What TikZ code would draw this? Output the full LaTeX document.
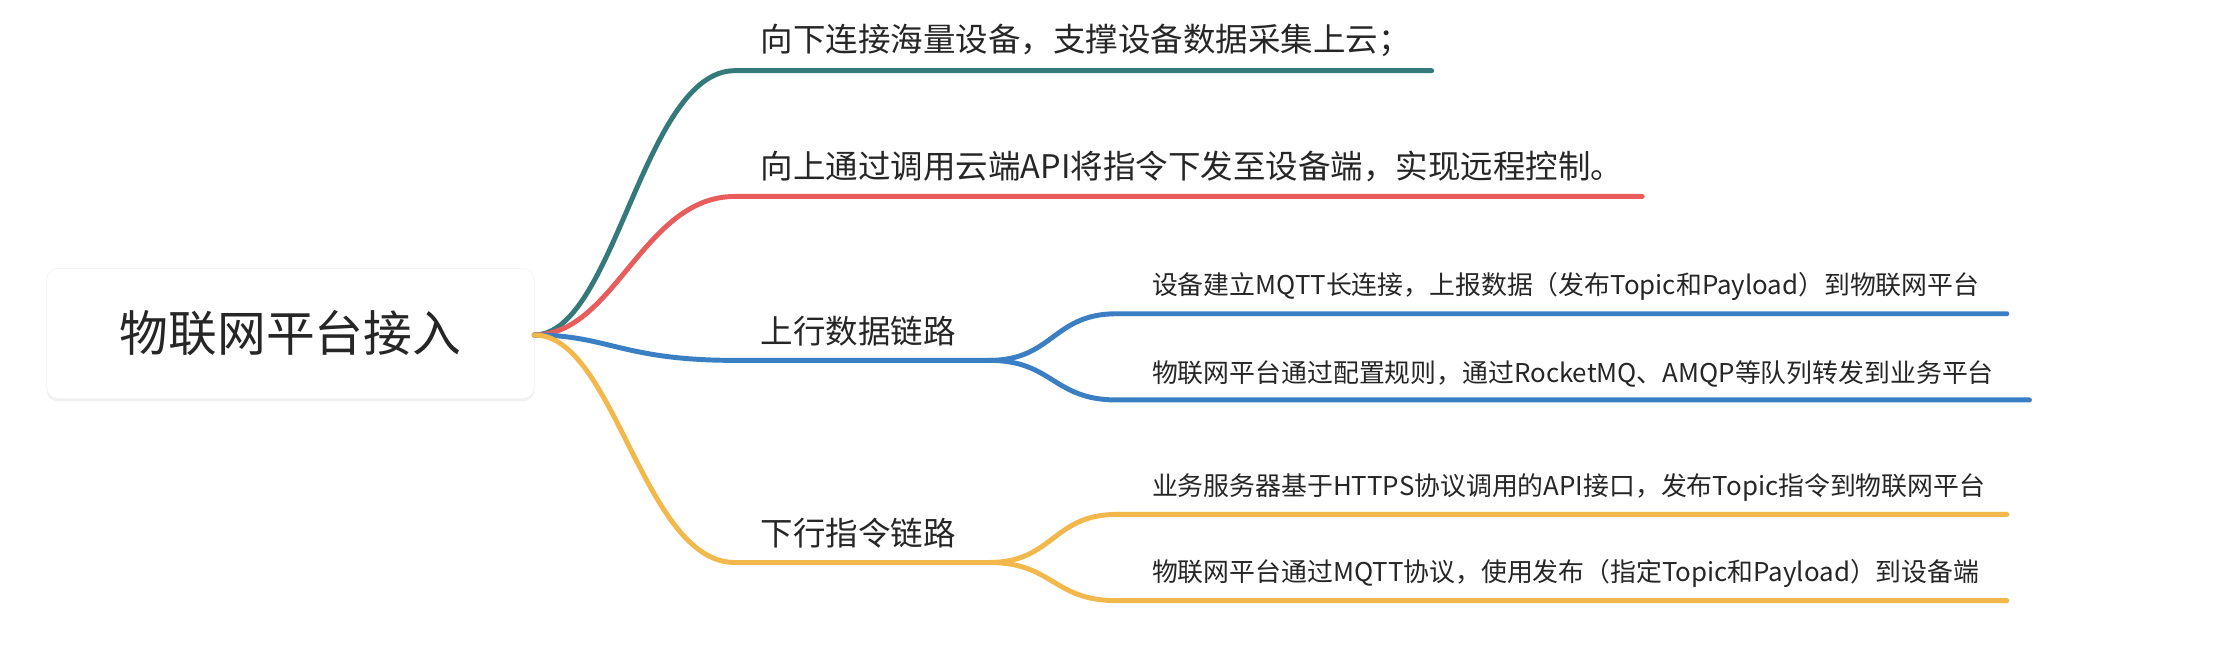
\documentclass[tikz,border=0pt]{standalone}
\usepackage{fontspec}
\setmainfont{Noto Sans CJK SC}
\usetikzlibrary{positioning,shadows}
\definecolor{teal1}{HTML}{357A7A}
\definecolor{red1}{HTML}{E85C5C}
\definecolor{blue1}{HTML}{3A7FC4}
\definecolor{yellow1}{HTML}{F2B84B}
\tikzset{
  branch/.style={line width=3.5pt, line cap=round},
  toplabel/.style={anchor=south west, inner sep=0pt, font=\fontsize{23}{27}\selectfont, text=black!85},
  leaflabel/.style={anchor=south west, inner sep=0pt, font=\fontsize{18.3}{22}\selectfont, text=black!85},
}

\begin{document}
\begin{tikzpicture}[x=1pt, y=-1pt]
      \useasboundingbox (0,0) rectangle (1568,468);
      \node (root) [draw=black!5, fill=white, rounded corners=8pt, minimum width=345pt,
        minimum height=92pt, drop shadow={opacity=0.12, shadow xshift=0pt, shadow yshift=-2pt},
        font=\fontsize{34.5}{40}\selectfont, text=black!85] at (205.5,236) {物联网平台接入};
      \coordinate (o) at (378,237);

      % first level
      \coordinate (a1) at (520,50);   \coordinate (a2) at (1013,50);
      \coordinate (b1) at (520,139);  \coordinate (b2) at (1162,139);
      \coordinate (c1) at (520,255);  \coordinate (c2) at (700,255);
      \coordinate (d1) at (520,398);  \coordinate (d2) at (700,398);
      \node (la) [toplabel] at (538,40) {向下连接海量设备，支撑设备数据采集上云；};
      \node (lb) [toplabel] at (538,129) {向上通过调用云端API将指令下发至设备端，实现远程控制。};
      \node (lc) [toplabel] at (538,245) {上行数据链路};
      \node (ld) [toplabel] at (538,388) {下行指令链路};

      \draw[branch, teal1] (o) .. controls (435,237) and (455,50) .. (a1) -- (a2);
      \draw[branch, red1] (o) .. controls (435,237) and (455,139) .. (b1) -- (b2);
      \draw[branch, blue1] (o) .. controls (430,237) and (440,255) .. (c1) -- (c2);
      \draw[branch, yellow1] (o) .. controls (435,237) and (455,398) .. (d1) -- (d2);

      % second level
      \coordinate (c11) at (790,222); \coordinate (c12) at (1420,222);
      \coordinate (c21) at (790,283); \coordinate (c22) at (1436,283);
      \coordinate (d11) at (790,364); \coordinate (d12) at (1420,364);
      \coordinate (d21) at (790,425); \coordinate (d22) at (1420,425);
      \node (lc1) [leaflabel] at (815,213) {设备建立MQTT长连接，上报数据（发布Topic和Payload）到物联网平台};
      \node (lc2) [leaflabel] at (815,274) {物联网平台通过配置规则，通过RocketMQ、AMQP等队列转发到业务平台};
      \node (ld1) [leaflabel] at (815,355) {业务服务器基于HTTPS协议调用的API接口，发布Topic指令到物联网平台};
      \node (ld2) [leaflabel] at (815,416) {物联网平台通过MQTT协议，使用发布（指定Topic和Payload）到设备端};

      \draw[branch, blue1] (c2) .. controls (745,255) and (745,222) .. (c11) -- (c12);
      \draw[branch, blue1] (c2) .. controls (745,255) and (745,283) .. (c21) -- (c22);
      \draw[branch, yellow1] (d2) .. controls (745,398) and (745,364) .. (d11) -- (d12);
      \draw[branch, yellow1] (d2) .. controls (745,398) and (745,425) .. (d21) -- (d22);
\end{tikzpicture}
\end{document}
